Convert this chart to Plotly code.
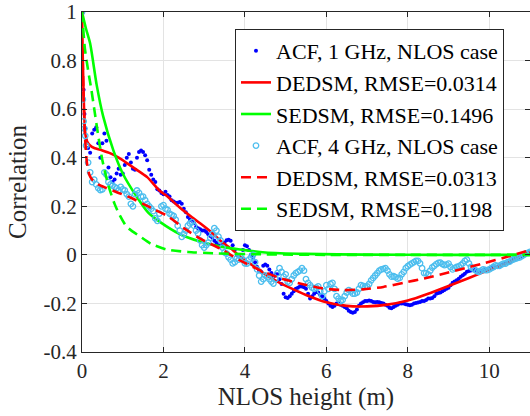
import plotly.graph_objects as go

# ---------------- data ----------------
grid_head = [0, 0.02, 0.04, 0.06, 0.08]
grid_main = [round(0.1 + 0.05 * i, 2) for i in range(219)]  # 0.10 ... 11.00

# ACF, 1 GHz (measured, dots)
acf1_x = grid_head + grid_main
acf1_y = [1.0, 0.84, 0.68, 0.58, 0.52,
          0.47, 0.44, 0.42, 0.50, 0.515, 0.525, 0.46, 0.40, 0.46, 0.50, 0.47, 0.36, 0.32, 0.30, 0.31, 0.335, 0.355, 0.33, 0.335,
          0.37, 0.40, 0.415, 0.38, 0.355, 0.35, 0.40, 0.424, 0.43, 0.424, 0.41, 0.39, 0.35, 0.33, 0.31, 0.30, 0.27, 0.265, 0.255, 0.25,
          0.26, 0.246, 0.24, 0.225, 0.22, 0.215, 0.215, 0.218, 0.21, 0.19, 0.175, 0.156, 0.145, 0.14, 0.13, 0.115, 0.11, 0.105, 0.10, 0.10,
          0.094, 0.085, 0.078, 0.07, 0.058, 0.05, 0.04, 0.034, 0.045, 0.05, 0.06, 0.062, 0.058, 0.04, 0.02, 0.0, -0.008, -0.015, 0.02, 0.04,
          0.035, 0.02, 0.0, -0.01, -0.03, -0.05, -0.065, -0.07, -0.045, -0.04, -0.045, -0.06, -0.075, -0.09, -0.08, -0.08, -0.1, -0.12, -0.16, -0.175,
          -0.178, -0.17, -0.16, -0.15, -0.14, -0.135, -0.13, -0.13, -0.133, -0.14, -0.16, -0.18, -0.17, -0.16, -0.153, -0.155, -0.165, -0.17, -0.18, -0.19,
          -0.2, -0.21, -0.215, -0.21, -0.2, -0.2, -0.205, -0.21, -0.215, -0.22, -0.23, -0.235, -0.238, -0.235, -0.225, -0.21, -0.2, -0.195, -0.19, -0.19,
          -0.188, -0.19, -0.194, -0.195, -0.194, -0.195, -0.198, -0.2, -0.205, -0.21, -0.218, -0.22, -0.215, -0.21, -0.205, -0.2, -0.2, -0.2, -0.203, -0.205,
          -0.208, -0.205, -0.2, -0.198, -0.196, -0.194, -0.19, -0.19, -0.186, -0.18, -0.18, -0.178, -0.17, -0.16, -0.157, -0.155, -0.15, -0.145, -0.14, -0.135,
          -0.125, -0.115, -0.11, -0.105, -0.098, -0.09, -0.084, -0.078, -0.07, -0.066, -0.064, -0.063, -0.062, -0.063, -0.067, -0.07, -0.064, -0.057, -0.058, -0.058,
          -0.055, -0.052, -0.051, -0.05, -0.046, -0.042, -0.039, -0.036, -0.033, -0.03, -0.024, -0.018, -0.015, -0.012, -0.01, -0.008, -0.003, 0.002, 0.006, 0.01]

# ACF, 4 GHz (measured, circles)
acf4_x = grid_head + grid_main
acf4_y = [1.0, 0.64, 0.55, 0.52, 0.49,
          0.45, 0.38, 0.34, 0.30, 0.31, 0.29, 0.275, 0.267, 0.27, 0.34, 0.33, 0.30, 0.29, 0.285, 0.28, 0.275, 0.265, 0.28, 0.27,
          0.265, 0.25, 0.24, 0.21, 0.20, 0.25, 0.265, 0.255, 0.24, 0.24, 0.225, 0.21, 0.20, 0.19, 0.18, 0.15, 0.14, 0.17, 0.20, 0.205,
          0.19, 0.185, 0.17, 0.165, 0.16, 0.145, 0.12, 0.10, 0.074, 0.085, 0.10, 0.12, 0.13, 0.135, 0.12, 0.10, 0.088, 0.06, 0.04, 0.03,
          0.04, 0.05, 0.07, 0.085, 0.11, 0.10, 0.075, 0.06, 0.03, 0.01, 0.005, -0.01, -0.02, -0.035, -0.03, -0.015, -0.02, -0.01, -0.02, -0.035,
          -0.036, -0.02, -0.01, 0.0, -0.03, -0.06, -0.085, -0.11, -0.10, -0.085, -0.09, -0.10, -0.11, -0.118, -0.10, -0.075, -0.055, -0.07, -0.09, -0.08,
          -0.11, -0.115, -0.10, -0.085, -0.075, -0.07, -0.065, -0.055, -0.065, -0.10, -0.115, -0.125, -0.135, -0.14, -0.135, -0.13, -0.15, -0.17, -0.15, -0.125,
          -0.14, -0.12, -0.115, -0.14, -0.17, -0.18, -0.19, -0.185, -0.17, -0.155, -0.145, -0.15, -0.16, -0.16, -0.155, -0.14, -0.125, -0.128, -0.13, -0.13,
          -0.12, -0.105, -0.095, -0.085, -0.075, -0.065, -0.06, -0.058, -0.055, -0.065, -0.08, -0.09, -0.088, -0.092, -0.098, -0.095, -0.08, -0.07, -0.055, -0.047,
          -0.04, -0.035, -0.03, -0.025, -0.025, -0.035, -0.055, -0.075, -0.075, -0.08, -0.065, -0.052, -0.045, -0.038, -0.033, -0.032, -0.038, -0.042, -0.04, -0.036,
          -0.05, -0.06, -0.055, -0.05, -0.048, -0.042, -0.035, -0.025, -0.02, -0.035, -0.05, -0.056, -0.062, -0.068, -0.07, -0.065, -0.06, -0.063, -0.063, -0.06,
          -0.055, -0.05, -0.043, -0.045, -0.045, -0.04, -0.036, -0.036, -0.03, -0.028, -0.022, -0.018, -0.015, -0.012, -0.01, -0.005, 0.0, 0.006, 0.008, 0.012]

# DEDSM fit, 1 GHz (solid red)
ded1_x = [0, 0.02, 0.05, 0.08, 0.13, 0.2, 0.3, 0.5, 0.7, 0.9, 1.1, 1.3, 1.6, 1.9, 2.1, 2.4, 2.7, 2.9, 3.2, 3.4, 3.7, 3.9,
          4.2, 4.5, 4.8, 5.1, 5.5, 6.0, 6.5, 7.0, 7.5, 8.0, 8.5, 9.0, 9.5, 10.0, 10.5, 11.0]
ded1_y = [1.0, 0.80, 0.60, 0.50, 0.465, 0.45, 0.44, 0.43, 0.418, 0.40, 0.378, 0.355, 0.32, 0.265, 0.24, 0.195, 0.155, 0.13, 0.09, 0.058, 0.02, -0.01,
          -0.045, -0.08, -0.11, -0.135, -0.165, -0.195, -0.21, -0.212, -0.205, -0.188, -0.16, -0.128, -0.095, -0.062, -0.03, 0.015]

# SEDSM fit, 1 GHz (solid green)
sed1_x = [0, 0.1, 0.2, 0.36, 0.52, 0.77, 1.0, 1.34, 1.62, 1.92, 2.41, 2.9, 3.39, 3.88, 4.5, 5.5, 7.0, 9.0, 11.0]
sed1_y = [1.0, 0.93, 0.87, 0.70, 0.57, 0.43, 0.335, 0.24, 0.175, 0.135, 0.085, 0.055, 0.035, 0.022, 0.01, 0.004, 0.001, 0.0, 0.0]

# DEDSM fit, 4 GHz (dashed red)
ded4_x = [0, 0.03, 0.07, 0.12, 0.18, 0.25, 0.4, 0.6, 0.9, 1.2, 1.5, 1.8, 2.1, 2.5, 2.9, 3.4, 3.9, 4.4, 4.9, 5.4, 5.9, 6.4,
          6.9, 7.4, 7.9, 8.4, 8.9, 9.4, 9.9, 10.4, 11.0]
ded4_y = [1.0, 0.70, 0.50, 0.38, 0.33, 0.31, 0.29, 0.275, 0.255, 0.235, 0.21, 0.185, 0.16, 0.11, 0.067, 0.025, -0.025, -0.065, -0.098, -0.12, -0.138, -0.145,
          -0.142, -0.132, -0.115, -0.097, -0.077, -0.055, -0.033, -0.01, 0.02]

# SEDSM fit, 4 GHz (dashed green)
sed4_x = [0, 0.07, 0.15, 0.23, 0.31, 0.39, 0.5, 0.64, 0.8, 0.92, 1.1, 1.43, 1.7, 2.08, 2.6, 3.3, 4.5, 6.0, 8.0, 11.0]
sed4_y = [1.0, 0.85, 0.76, 0.68, 0.59, 0.50, 0.39, 0.29, 0.21, 0.165, 0.115, 0.075, 0.045, 0.022, 0.012, 0.006, 0.002, 0.0, 0.0, 0.0]

names = ["ACF, 1 GHz, NLOS case", "DEDSM, RMSE=0.0314", "SEDSM, RMSE=0.1496",
         "ACF, 4 GHz, NLOS case", "DEDSM, RMSE=0.0313", "SEDSM, RMSE=0.1198"]

x_ticks = [0, 2, 4, 6, 8, 10]
x_ticktext = ["0", "2", "4", "6", "8", "10"]
y_ticks = [-0.4, -0.2, 0, 0.2, 0.4, 0.6, 0.8, 1]
y_ticktext = ["-0.4", "-0.2", "0", "0.2", "0.4", "0.6", "0.8", "1"]

# ---------------- figure ----------------
FONT = "Liberation Serif, Times New Roman, serif"
RED = "#FF0000"
GREEN = "#00FF00"
BLUE = "#0000FF"
LBLUE = "#4DBEEE"
DASH = "10px,6px"

fig = go.Figure()
fig.add_trace(go.Scatter(x=acf1_x, y=acf1_y, mode="markers", name=names[0],
                         marker=dict(symbol="circle", size=4, color=BLUE, line=dict(width=0))))
fig.add_trace(go.Scatter(x=ded1_x, y=ded1_y, mode="lines", name=names[1],
                         line=dict(color=RED, width=2.6, shape="spline", smoothing=0.6)))
fig.add_trace(go.Scatter(x=sed1_x, y=sed1_y, mode="lines", name=names[2],
                         line=dict(color=GREEN, width=2.6, shape="spline", smoothing=0.6)))
fig.add_trace(go.Scatter(x=acf4_x, y=acf4_y, mode="markers", name=names[3],
                         marker=dict(symbol="circle-open", size=5.5, color=LBLUE, line=dict(width=1.3, color=LBLUE))))
fig.add_trace(go.Scatter(x=ded4_x, y=ded4_y, mode="lines", name=names[4],
                         line=dict(color=RED, width=2.6, dash=DASH, shape="spline", smoothing=0.6)))
fig.add_trace(go.Scatter(x=sed4_x, y=sed4_y, mode="lines", name=names[5],
                         line=dict(color=GREEN, width=2.6, dash=DASH, shape="spline", smoothing=0.6)))

axis_common = dict(
    automargin=False,
    showline=True, linecolor="#262626", linewidth=1, mirror="ticks",
    ticks="inside", ticklen=5, tickcolor="#262626", tickwidth=1,
    showgrid=True, gridcolor="#E3E3E3", gridwidth=1, zeroline=False,
    tickfont=dict(family=FONT, size=21, color="#262626"),
)

fig.update_layout(
    template="none",
    width=530, height=416,
    margin=dict(l=82, r=0, t=12, b=64, pad=0),
    paper_bgcolor="white", plot_bgcolor="white",
    font=dict(family=FONT, color="#262626"),
    showlegend=True,
    legend=dict(
        x=0.3415, y=0.95, xanchor="left", yanchor="top",
        bgcolor="white", bordercolor="#262626", borderwidth=1,
        font=dict(family=FONT, size=22, color="#000000"),
        tracegroupgap=0, traceorder="normal", itemwidth=30,
    ),
    xaxis=dict(range=[0, 11], tickvals=x_ticks, ticktext=x_ticktext,
               title=dict(text="NLOS height (m)", font=dict(family=FONT, size=25, color="#262626"), standoff=4),
               **axis_common),
    yaxis=dict(range=[-0.4, 1], tickvals=y_ticks, ticktext=y_ticktext,
               title=dict(text="Correlation", font=dict(family=FONT, size=25, color="#262626"), standoff=9),
               **axis_common),
)

fig.write_html("out.html", config={"displayModeBar": False},
               post_script="document.body.style.margin='0';document.body.style.padding='0';")
